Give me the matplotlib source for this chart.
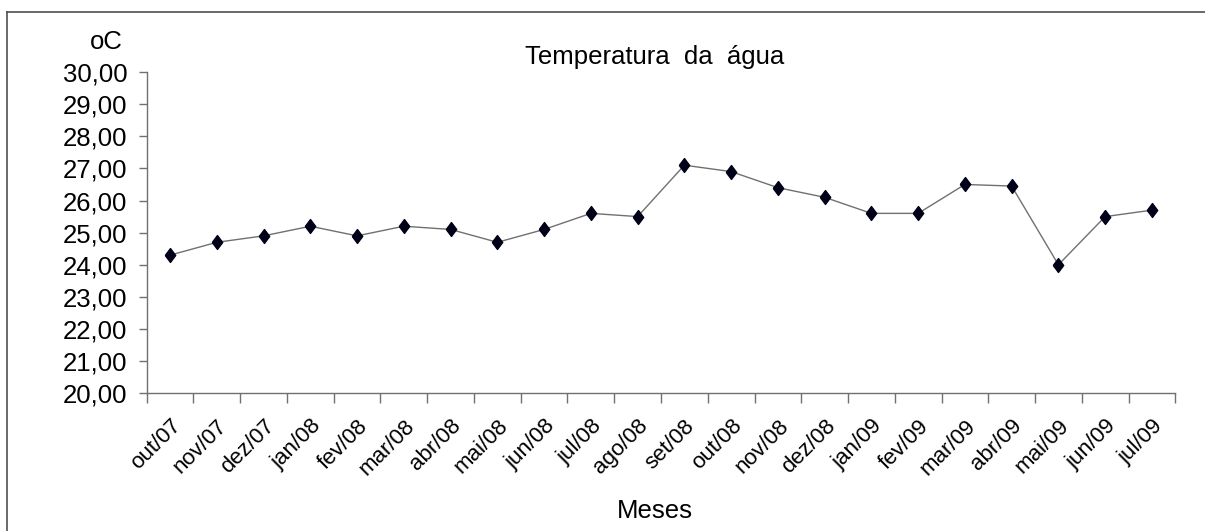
import matplotlib
matplotlib.use("Agg")
import matplotlib.pyplot as plt
from matplotlib.lines import Line2D
from matplotlib.ticker import FuncFormatter, FixedLocator

plt.rcParams['font.family'] = ['Liberation Sans', 'DejaVu Sans']

months = ["out/07", "nov/07", "dez/07", "jan/08", "fev/08", "mar/08", "abr/08",
          "mai/08", "jun/08", "jul/08", "ago/08", "set/08", "out/08", "nov/08",
          "dez/08", "jan/09", "fev/09", "mar/09", "abr/09", "mai/09", "jun/09", "jul/09"]
temperature = [24.3, 24.7, 24.9, 25.2, 24.9, 25.2, 25.1, 24.7, 25.1, 25.6, 25.5,
               27.1, 26.9, 26.4, 26.1, 25.6, 25.6, 26.5, 26.45, 24.0, 25.5, 25.7]
y_ticks = [20, 21, 22, 23, 24, 25, 26, 27, 28, 29, 30]

FS = 18.5
XFS = 16
W, H = 1205, 531
fig = plt.figure(figsize=(W / 100, H / 100), dpi=100)
ax = fig.add_axes([146.7 / W, 1 - 393.3 / H, (1175.3 - 146.7) / W, (393.3 - 72) / H])

x = list(range(len(months)))
diamond = [(-0.75, 0), (0, 1), (0.75, 0), (0, -1), (-0.75, 0)]
ax.plot(x, temperature, color='#707070', lw=1.0,
        marker=diamond, markersize=10, markerfacecolor='#000018',
        markeredgecolor='#000018', zorder=3)

ax.set_xlim(-0.5, len(months) - 0.5)
ax.set_ylim(20, 30)
ax.set_yticks(y_ticks)
ax.yaxis.set_major_formatter(FuncFormatter(lambda v, p: f"{v:.2f}".replace('.', ',')))

ax.set_xticks(x)
ax.set_xticklabels(months, rotation=45, ha='right', va='top', rotation_mode='anchor')
ax.xaxis.set_minor_locator(FixedLocator([i - 0.5 for i in range(len(months) + 1)]))
ax.tick_params(axis='x', which='major', length=0, pad=16, labelsize=XFS)
ax.tick_params(axis='x', which='minor', length=7, width=1, color='#707070', direction='out')
ax.tick_params(axis='y', length=6, width=1, color='#707070', pad=8, labelsize=FS)

for s in ['top', 'right']:
    ax.spines[s].set_visible(False)
for s in ['left', 'bottom']:
    ax.spines[s].set_color('#707070')
    ax.spines[s].set_linewidth(1)

fig.text(655 / W, 1 - 57 / H, "Temperatura  da  água", ha='center', va='center', fontsize=FS)
fig.text(655 / W, 1 - 511 / H, "Meses", ha='center', va='center', fontsize=FS)
fig.text(123 / W, 1 - 42 / H, "oC", ha='right', va='center', fontsize=FS)

# outer chart frame
fig.add_artist(Line2D([7.5 / W, 7.5 / W], [0, 1 - 12 / H], transform=fig.transFigure,
                      color='#505050', lw=1.2))
fig.add_artist(Line2D([7.5 / W, 1], [1 - 12 / H, 1 - 12 / H], transform=fig.transFigure,
                      color='#505050', lw=1.2))

fig.savefig("out.png", dpi=100, facecolor='white')
